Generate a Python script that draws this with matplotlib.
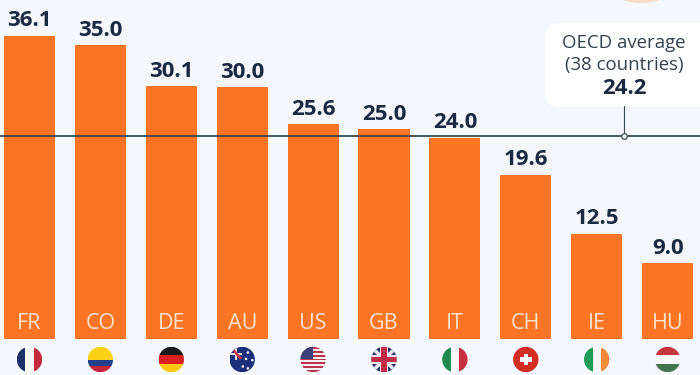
import matplotlib
matplotlib.use("Agg")
import matplotlib.pyplot as plt
from matplotlib.patches import Circle, Rectangle, Ellipse, FancyBboxPatch, Polygon

countries = ["FR", "CO", "DE", "AU", "US", "GB", "IT", "CH", "IE", "HU"]
values = [36.1, 35.0, 30.1, 30.0, 25.6, 25.0, 24.0, 19.6, 12.5, 9.0]
value_labels = ["36.1", "35.0", "30.1", "30.0", "25.6", "25.0", "24.0", "19.6", "12.5", "9.0"]
oecd_avg = 24.2
oecd_label = "OECD average\n(38 countries)"

bg = "#f4f7fb"
orange = "#fb7524"
navy = "#1b2a41"

plt.rcParams["font.family"] = ["Open Sans", "DejaVu Sans"]

fig = plt.figure(figsize=(7, 3.75), dpi=100, facecolor=bg)

# pixel axes for the furniture (flags, callout box)
px = fig.add_axes([0, 0, 1, 1], zorder=3)
px.set_xlim(0, 700)
px.set_ylim(375, 0)
px.axis("off")

# data axes fill the whole figure, limits chosen so bars land where they should
ax = fig.add_axes([0, 0, 1, 1], zorder=2, facecolor=bg)
ax.set_xlim(-0.416, 9.457)
ax.set_ylim(-4.29, 40.4)
ax.axis("off")

ax.bar(range(len(values)), values, width=0.72, color=orange, zorder=2)
for i, v in enumerate(values):
    ax.text(i, v + 0.55, value_labels[i], ha="center", va="bottom", fontsize=16,
            fontweight="bold", color=navy, zorder=4)
    ax.text(i, 1.8, countries[i], ha="center", va="center", fontsize=15.5,
            color="#fde3c8", zorder=4)

ax.axhline(oecd_avg, color="#2f3d46", lw=1.2, zorder=3)

# peach blob cut off by the top edge
px.add_patch(Ellipse((641, -8), 52, 22, color="#fbdcc6", lw=0))

# callout
px.add_patch(FancyBboxPatch((552, 30), 160, 70, boxstyle="round,pad=0,rounding_size=6",
                            mutation_aspect=1, fc="white", ec="white", lw=10, joinstyle="round"))
px.plot([624, 624], [106, 136], color="#3c4a52", lw=0.8)
px.plot([624], [136], "o", ms=4, mfc="white", mec="#3c4a52", mew=0.9)
px.text(624, 54, oecd_label, ha="center", va="center", fontsize=13.4, color="#33424f",
        linespacing=1.35)
px.text(624, 88, "24.2", ha="center", va="center", fontsize=16, fontweight="bold", color=navy)


def flag(i, name):
    cx, cy, r = 29.5 + 70.9 * i, 359.5, 12.7
    clip = Circle((cx, cy), r, transform=px.transData)
    parts = []
    def rect(x0, y0, x1, y1, c):
        parts.append(Rectangle((cx + x0 * r, cy + y0 * r), (x1 - x0) * r, (y1 - y0) * r, color=c, lw=0))
    def poly(pts, c):
        parts.append(Polygon([(cx + a * r, cy + b * r) for a, b in pts], color=c, lw=0))
    def dot(x, y, s, c):
        parts.append(Circle((cx + x * r, cy + y * r), s * r, color=c, lw=0))

    if name == "FR":
        rect(-1, -1, -.33, 1, "#1c2f66"); rect(-.33, -1, .33, 1, "#f7f7f7"); rect(.33, -1, 1, 1, "#c22a3a")
    elif name == "CO":
        rect(-1, -1, 1, .05, "#fbd116"); rect(-1, .05, 1, .52, "#23408f"); rect(-1, .52, 1, 1, "#c8233c")
    elif name == "DE":
        rect(-1, -1, 1, -.33, "#1a1a1a"); rect(-1, -.33, 1, .33, "#d8201f"); rect(-1, .33, 1, 1, "#fdc80f")
    elif name == "AU":
        rect(-1, -1, 1, 1, "#1c2f7a")
        rect(-1, -.55, 0, -.35, "#e9e4ea"); rect(-.6, -1, -.4, 0, "#e9e4ea")
        poly([(-1, -1), (-.8, -1), (0, -.1), (-.2, 0)], "#c9304a")
        for x, y in [(.45, -.55), (.05, .55), (.45, .7), (.8, .05), (.3, -.05)]:
            dot(x, y, .1, "white")
    elif name == "US":
        for k in range(7):
            rect(-1, -1 + k * 2 / 6.5, 1, -1 + (k + .5) * 2 / 6.5, "#b8354f")
            rect(-1, -1 + (k + .5) * 2 / 6.5, 1, -1 + (k + 1) * 2 / 6.5, "#f4f0f2")
        rect(-1, -1, 0, -.05, "#3c3f78")
    elif name == "GB":
        rect(-1, -1, 1, 1, "#1f2f6e")
        poly([(-1, -.8), (-.8, -1), (1, .8), (.8, 1)], "#f0eaec")
        poly([(-1, .8), (-.8, 1), (1, -.8), (.8, -1)], "#f0eaec")
        rect(-.35, -1, .35, 1, "#f0eaec"); rect(-1, -.35, 1, .35, "#f0eaec")
        rect(-.2, -1, .2, 1, "#c22a4a"); rect(-1, -.2, 1, .2, "#c22a4a")
    elif name == "IT":
        rect(-1, -1, -.33, 1, "#1f8a4c"); rect(-.33, -1, .33, 1, "#f7f7f7"); rect(.33, -1, 1, 1, "#c8303f")
    elif name == "CH":
        rect(-1, -1, 1, 1, "#d22d23")
        rect(-.45, -.17, .45, .17, "white"); rect(-.17, -.45, .17, .45, "white")
    elif name == "IE":
        rect(-1, -1, -.33, 1, "#1f9a57"); rect(-.33, -1, .33, 1, "#f7f7f7"); rect(.33, -1, 1, 1, "#f58a3c")
    elif name == "HU":
        rect(-1, -1, 1, -.33, "#c8363f"); rect(-1, -.33, 1, .33, "#f7f7f7"); rect(-1, .33, 1, 1, "#44734f")

    for p in parts:
        px.add_patch(p)
        p.set_clip_path(clip)


for i, c in enumerate(countries):
    flag(i, c)

fig.savefig("out.png", dpi=100, facecolor=bg)
